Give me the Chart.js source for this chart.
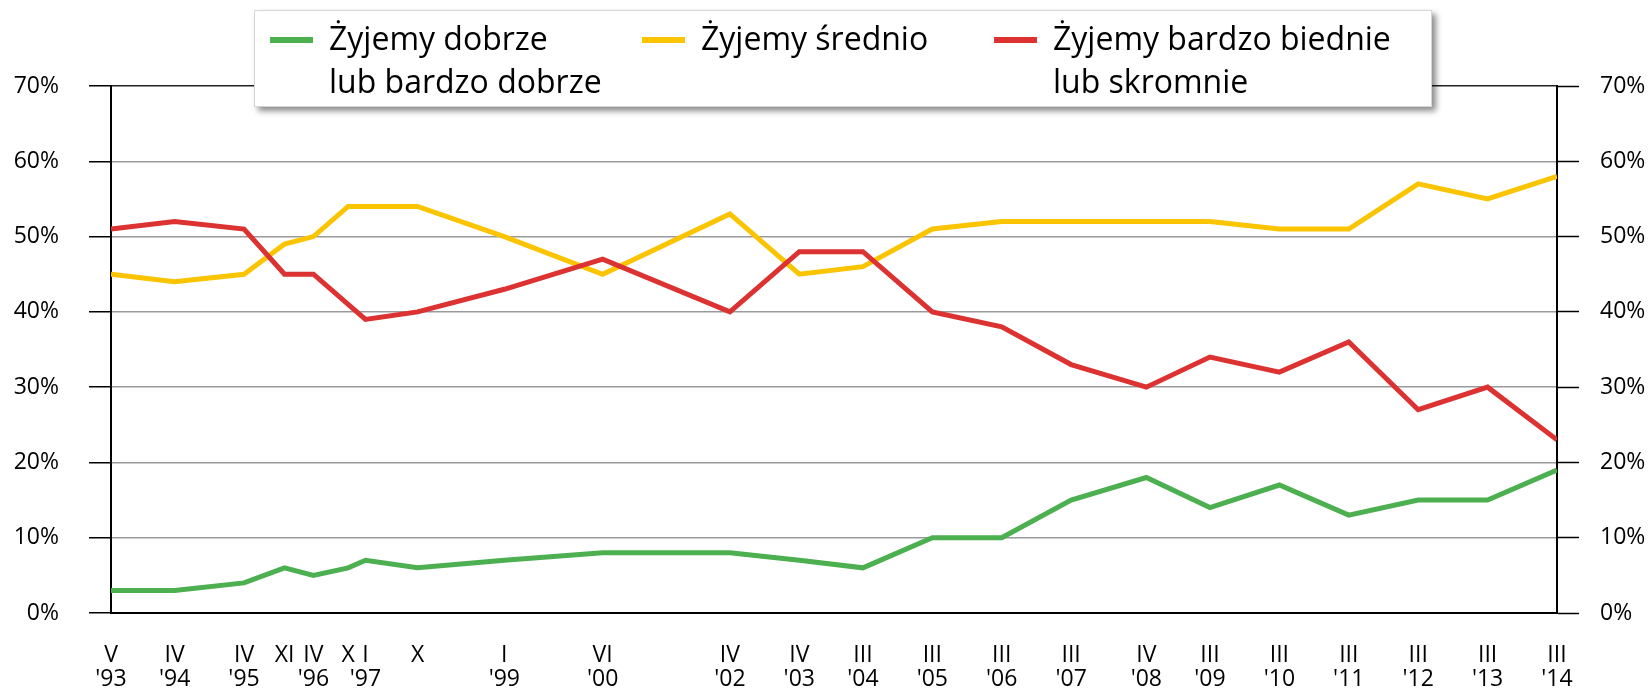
<!DOCTYPE html>
<html lang="pl">
<head>
<meta charset="utf-8">
<title>Jak żyjemy</title>
<script src="https://cdn.jsdelivr.net/npm/chart.js@4/dist/chart.umd.min.js"></script>
<style>
  html, body { margin: 0; padding: 0; background: #fff; }
  #wrap { width: 1650px; height: 691px; position: relative; }
</style>
</head>
<body>
<div id="wrap"><canvas id="chart-bytu"></canvas></div>
<script>
// ============================================================
// dane z wykresu
// ============================================================

const romanMonths = ['I','II','III','IV','V','VI','VII','VIII','IX','X','XI','XII'];

const surveyMonths = ['V','IV','IV','XI','IV','X','I','X','I','VI','IV','IV','III','III','III','III','IV','III','III','III','III','III','III'];
const surveyYears  = [1993,1994,1995,1995,1996,1996,1997,1997,1999,2000,2002,2003,2004,2005,2006,2007,2008,2009,2010,2011,2012,2013,2014];
const yearLabels   = ["'93","'94","'95","","'96","","'97","","'99","'00","'02","'03","'04","'05","'06","'07","'08","'09","'10","'11","'12","'13","'14"];

const dobrze  = [3,3,4,6,5,6,7,6,7,8,8,7,6,10,10,15,18,14,17,13,15,15,19];
const srednio = [45,44,45,49,50,54,54,54,50,45,53,45,46,51,52,52,52,52,51,51,57,55,58];
const biednie = [51,52,51,45,45,41,39,40,43,47,40,48,48,40,38,33,30,34,32,36,27,30,23];

const yTicks = [0,10,20,30,40,50,60,70];

// ============================================================

const positions = surveyMonths.map((m, i) => surveyYears[i] + romanMonths.indexOf(m) / 12);
const toPoints = arr => arr.map((v, i) => ({ x: positions[i], y: v }));

const legendBox = {
  id: 'legendBox',
  afterDraw(chart) {
    const ctx = chart.ctx;
    const cols = [270, 642, 994];
    ctx.save();
    ctx.shadowColor = 'rgba(0,0,0,0.45)';
    ctx.shadowBlur = 6;
    ctx.shadowOffsetX = 4;
    ctx.shadowOffsetY = 4;
    ctx.fillStyle = '#fff';
    ctx.fillRect(254, 10, 1178, 97);
    ctx.restore();
    ctx.save();
    ctx.strokeStyle = '#d6d6d6';
    ctx.lineWidth = 1;
    ctx.strokeRect(254.5, 10.5, 1177, 96);
    ctx.font = '32px "Open Sans"';
    ctx.textBaseline = 'middle';
    chart.data.datasets.forEach((ds, i) => {
      const x = cols[i];
      ctx.fillStyle = ds.borderColor;
      ctx.fillRect(x, 37, 43, 6);
      ctx.fillStyle = '#000';
      ds.label.split('\n').forEach((line, j) => ctx.fillText(line, x + 59, 41 + j * 43));
    });
    ctx.restore();
  }
};

const tickFont = { family: '"Open Sans"', size: 23, lineHeight: 24 / 23 };

new Chart(document.getElementById('chart-bytu'), {
  type: 'line',
  data: {
    datasets: [
      { label: 'Żyjemy dobrze\nlub bardzo dobrze', data: toPoints(dobrze), borderColor: '#4CAF50', order: 0 },
      { label: 'Żyjemy średnio', data: toPoints(srednio), borderColor: '#FAC400', order: 2 },
      { label: 'Żyjemy bardzo biednie\nlub skromnie', data: toPoints(biednie), borderColor: '#DC3232', order: 1 },
    ].map(d => Object.assign(d, { borderWidth: 5, pointRadius: 0, tension: 0, fill: false, borderJoinStyle: 'miter' })),
  },
  plugins: [legendBox],
  options: {
    responsive: true,
    maintainAspectRatio: false,
    animation: false,
    layout: { padding: { top: 86, left: 0, right: 0, bottom: 0 } },
    plugins: { legend: { display: false }, tooltip: { enabled: false } },
    scales: {
      x: {
        type: 'linear',
        min: positions[0],
        max: positions[positions.length - 1],
        afterBuildTicks: s => { s.ticks = positions.map(v => ({ value: v })); },
        afterFit: s => { s.height = 78; },
        grid: { display: false, drawTicks: false },
        border: { display: true, color: '#000', width: 2 },
        ticks: {
          autoSkip: false, maxRotation: 0, padding: 30, color: '#000', font: tickFont,
          callback: (v, i) => [surveyMonths[i], yearLabels[i]],
        },
      },
      y: {
        position: 'left',
        min: 0, max: 70,
        afterBuildTicks: s => { s.ticks = yTicks.map(v => ({ value: v })); },
        afterFit: s => { s.width = 111; },
        grid: {
          color: c => c.tick && c.tick.value === 70 ? '#222' : '#9a9a9a',
          lineWidth: 1.5, tickColor: '#000', tickLength: 22, tickWidth: 1.5,
        },
        border: { display: true, color: '#000', width: 2 },
        ticks: { padding: 30, color: '#000', font: tickFont, callback: v => v + '%' },
      },
      y2: {
        position: 'right',
        min: 0, max: 70,
        afterBuildTicks: s => { s.ticks = yTicks.map(v => ({ value: v })); },
        afterFit: s => { s.width = 93; },
        grid: { drawOnChartArea: false, tickColor: '#000', tickLength: 22, tickWidth: 1.5 },
        border: { display: true, color: '#000', width: 2 },
        ticks: { padding: 21, color: '#000', font: tickFont, callback: v => v + '%' },
      },
    },
  },
});
</script>
</body>
</html>
